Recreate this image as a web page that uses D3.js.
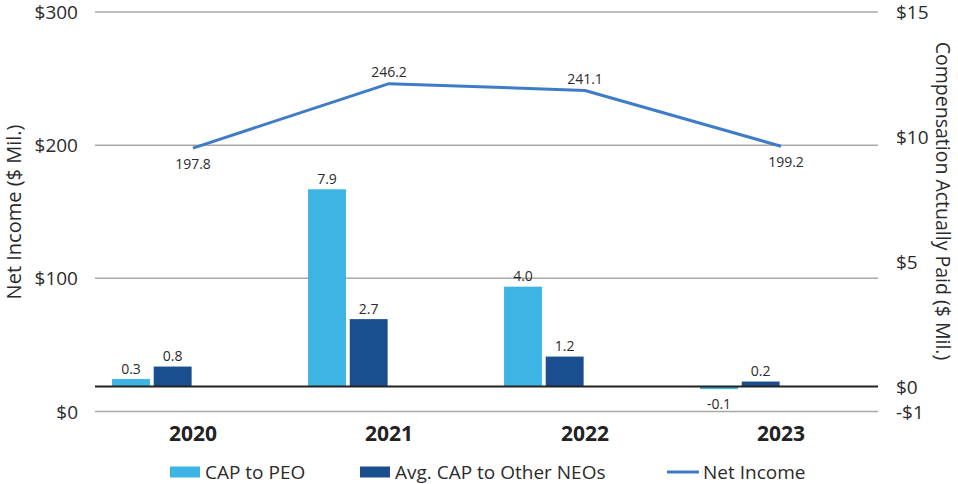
<!DOCTYPE html>
<html>
<head>
<meta charset="utf-8">
<script src="https://cdn.jsdelivr.net/npm/d3@7"></script>
<style>
  html, body { margin: 0; padding: 0; background: #fff; }
  svg { display: block; font-family: "Open Sans", sans-serif; }
</style>
</head>
<body>
<svg id="chart" width="958" height="484"></svg>
<script>
// ---- data ----
const years = ["2020", "2021", "2022", "2023"];
const capToPEO = [0.3, 7.9, 4.0, -0.1];
const avgCapOtherNEOs = [0.8, 2.7, 1.2, 0.2];
const netIncome = [197.8, 246.2, 241.1, 199.2];
const seriesNames = ["CAP to PEO", "Avg. CAP to Other NEOs", "Net Income"];
const leftTicks = [0, 100, 200, 300];
const rightTicks = [-1, 0, 5, 10, 15];

// ---- styles ----
const colPEO = "#3DB4E3";
const colNEO = "#1A4E8E";
const colLine = "#3F7CC8";
const textCol = "#2b2b2b";
const netLabelSide = ["below", "above", "above", "below"];

const svg = d3.select("#chart");
const plotL = 95, plotR = 879, plotT = 12, plotB = 411.5;

const x = d3.scaleBand().domain(years).range([plotL, plotR]).padding(0);
const bw = x.bandwidth();
const xs = d3.scaleBand().domain(seriesNames.slice(0, 2))
  .range([bw * 0.087, bw * 0.493]).paddingInner(0.09);
const yL = d3.scaleLinear().domain([0, 300]).range([plotB, plotT]);
const yR = d3.scaleLinear().domain([-1, 15]).range([plotB, plotT]);

// gridlines (left axis)
svg.append("g").selectAll("line").data(leftTicks).join("line")
  .attr("x1", plotL).attr("x2", plotR - 1)
  .attr("y1", d => yL(d)).attr("y2", d => yL(d))
  .attr("stroke", "#a8a8a8").attr("stroke-width", 1.5);

// left tick labels
svg.append("g").selectAll("text").data(leftTicks).join("text")
  .attr("x", 78).attr("y", d => yL(d))
  .attr("text-anchor", "end").attr("dominant-baseline", "central")
  .attr("font-size", 19).attr("fill", textCol)
  .text(d => "$" + d);

// right tick labels
svg.append("g").selectAll("text").data(rightTicks).join("text")
  .attr("x", 896).attr("y", d => yR(d))
  .attr("text-anchor", "start").attr("dominant-baseline", "central")
  .attr("font-size", 19).attr("fill", textCol)
  .text(d => (d < 0 ? "-$" + Math.abs(d) : "$" + d));

// axis titles
svg.append("text")
  .attr("transform", "translate(13,212) rotate(-90)")
  .attr("text-anchor", "middle").attr("dominant-baseline", "central")
  .attr("font-size", 20).attr("fill", textCol)
  .text("Net Income ($ Mil.)");
svg.append("text")
  .attr("transform", "translate(943,201) rotate(90)")
  .attr("text-anchor", "middle").attr("dominant-baseline", "central")
  .attr("font-size", 19.5).attr("fill", textCol)
  .text("Compensation Actually Paid ($ Mil.)");

// bars
const barData = [];
years.forEach((yr, i) => {
  barData.push({ yr, s: seriesNames[0], v: capToPEO[i], c: colPEO });
  barData.push({ yr, s: seriesNames[1], v: avgCapOtherNEOs[i], c: colNEO });
});
const gBars = svg.append("g");
gBars.selectAll("rect").data(barData).join("rect")
  .attr("x", d => x(d.yr) + xs(d.s))
  .attr("width", xs.bandwidth())
  .attr("y", d => Math.min(yR(d.v), yR(0)))
  .attr("height", d => Math.abs(yR(d.v) - yR(0)))
  .attr("fill", d => d.c);

// baseline at 0 (right axis)
svg.append("line")
  .attr("x1", plotL).attr("x2", plotR - 1)
  .attr("y1", yR(0)).attr("y2", yR(0))
  .attr("stroke", "#222").attr("stroke-width", 2);

// bar labels
svg.append("g").selectAll("text").data(barData).join("text")
  .attr("x", d => x(d.yr) + xs(d.s) + xs.bandwidth() / 2)
  .attr("y", d => d.v >= 0 ? yR(d.v) - 11 : yR(d.v) + 14)
  .attr("text-anchor", "middle").attr("dominant-baseline", "central")
  .attr("font-size", 14).attr("fill", textCol)
  .text(d => d.v.toFixed(1));

// net income line
const lineGen = d3.line()
  .x((d, i) => x(years[i]) + bw / 2)
  .y(d => yL(d));
svg.append("path").datum(netIncome)
  .attr("d", lineGen)
  .attr("fill", "none").attr("stroke", colLine).attr("stroke-width", 3)
  .attr("stroke-linejoin", "round");

svg.append("g").selectAll("text").data(netIncome).join("text")
  .attr("x", (d, i) => x(years[i]) + bw / 2 + (i === 3 ? 5 : 0))
  .attr("y", (d, i) => netLabelSide[i] === "above" ? yL(d) - 12 : yL(d) + 15)
  .attr("text-anchor", "middle").attr("dominant-baseline", "central")
  .attr("font-size", 14).attr("fill", textCol)
  .text(d => d.toFixed(1));

// category labels
svg.append("g").selectAll("text").data(years).join("text")
  .attr("x", d => x(d) + bw / 2).attr("y", 433)
  .attr("text-anchor", "middle").attr("dominant-baseline", "central")
  .attr("font-size", 21).attr("font-weight", "bold").attr("fill", "#222")
  .text(d => d);

// legend
const lg = svg.append("g").attr("font-size", 19).attr("fill", textCol);
const legendItems = [
  { name: seriesNames[0], type: "rect", c: colPEO, x: 170 },
  { name: seriesNames[1], type: "rect", c: colNEO, x: 360 },
  { name: seriesNames[2], type: "line", c: colLine, x: 667 }
];
legendItems.forEach(it => {
  if (it.type === "rect") {
    lg.append("rect").attr("x", it.x).attr("y", 466.5).attr("width", 30).attr("height", 11).attr("fill", it.c);
  } else {
    lg.append("line").attr("x1", it.x).attr("x2", it.x + 32).attr("y1", 472).attr("y2", 472)
      .attr("stroke", it.c).attr("stroke-width", 3);
  }
  lg.append("text").attr("x", it.x + (it.type === "rect" ? 35 : 36)).attr("y", 472)
    .attr("dominant-baseline", "central").text(it.name);
});
</script>
</body>
</html>
